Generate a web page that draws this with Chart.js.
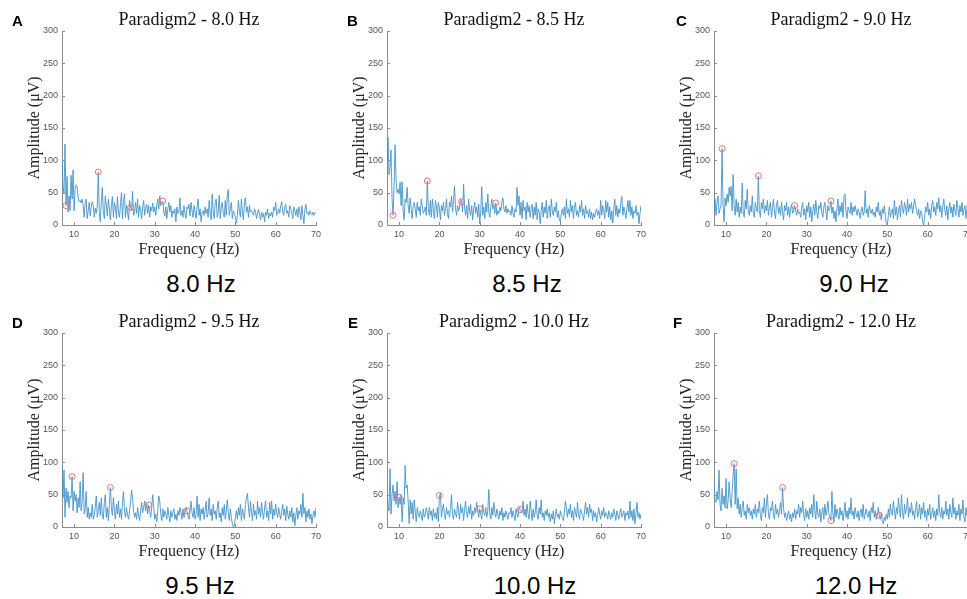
<!DOCTYPE html>
<html>
<head>
<meta charset="utf-8">
<script src="https://cdn.jsdelivr.net/npm/chart.js@4.4.1/dist/chart.umd.min.js"></script>
<style>
  html, body { margin: 0; padding: 0; background: #fff; overflow: hidden; }
  body { width: 967px; height: 599px; position: relative; }
  canvas { position: absolute; }
  .letter { position: absolute; font: bold 15px "Liberation Sans", Arial, sans-serif; line-height: 15px; color: #000; }
  .caption { position: absolute; width: 140px; text-align: center; font: 24px "Liberation Sans", Arial, sans-serif; line-height: 28px; color: #000; }
</style>
</head>
<body>
<canvas id="cA" width="330" height="268" style="left:0px;top:0px"></canvas>
<canvas id="cB" width="330" height="268" style="left:325px;top:0px"></canvas>
<canvas id="cC" width="330" height="268" style="left:652px;top:0px"></canvas>
<canvas id="cD" width="330" height="268" style="left:0px;top:302px"></canvas>
<canvas id="cE" width="330" height="268" style="left:325px;top:302px"></canvas>
<canvas id="cF" width="330" height="268" style="left:652px;top:302px"></canvas>

<div class="letter" style="left:12px;top:13px">A</div>
<div class="letter" style="left:347px;top:13px">B</div>
<div class="letter" style="left:676px;top:13px">C</div>
<div class="letter" style="left:12px;top:315px">D</div>
<div class="letter" style="left:348px;top:315px">E</div>
<div class="letter" style="left:673px;top:315px">F</div>

<div class="caption" style="left:131px;top:270px">8.0 Hz</div>
<div class="caption" style="left:457px;top:270px">8.5 Hz</div>
<div class="caption" style="left:784px;top:270px">9.0 Hz</div>
<div class="caption" style="left:130px;top:572px">9.5 Hz</div>
<div class="caption" style="left:465px;top:572px">10.0 Hz</div>
<div class="caption" style="left:786px;top:572px">12.0 Hz</div>

<script>
// frequency bins: 7 Hz to 70 Hz, 0.25 Hz resolution (253 bins)
const freqStart = 7;
const freqStep = 0.25;
const xTicks = [10, 20, 30, 40, 50, 60, 70];
const yTicks = [0, 50, 100, 150, 200, 250, 300];

// amplitude spectra (uV), one row = 5 Hz
const ampA = [
  100,60,48,125,30, 75,20,45,22,77, 40,85,22,55,62, 60,42,36,38,34,
  40,30,12,35,40, 10,22,35,14,28, 36,30,12,26,18, 30,82,20,5,35,
  58,20,10,45,30, 14,40,25,8,30, 44,12,35,28,10, 44,20,12,30,50,
  10,35,48,12,30, 20,8,38,27,22, 52,15,20,35,18, 40,12,30,24,10,
  28,38,15,25,32, 18,30,12,28,22, 34,20,28,15,30, 40,25,45,30,35,
  37,20,14,28,10, 25,35,20,30,12, 22,18,25,5,28, 18,20,42,15,22,
  12,30,18,10,28, 25,32,14,35,22, 12,30,20,10,28, 40,15,25,5,20,
  22,15,28,18,25, 12,38,20,8,48, 20,10,35,40,12, 20,46,10,28,35,
  18,12,38,15,45, 55,15,25,35,10, 22,18,12,3,15, 38,22,12,40,20,
  8,35,42,20,28, 12,30,20,22,18, 15,25,20,10,18, 24,15,8,20,12,
  18,5,20,15,25, 10,18,14,20,12, 28,22,35,15,20, 25,18,30,36,20,
  15,28,32,18,22, 12,30,25,18,10, 28,22,15,25,12, 28,20,8,30,15,
  2,25,32,18,20, 15,22,18,16,20, 15,18,20
];
const ampB = [
  70,135,78,90,116, 40,15,60,124,70, 50,55,48,66,30, 67,22,8,40,35,
  58,30,18,42,25, 10,30,35,25,12, 35,22,28,15,40, 30,18,22,28,15,
  68,25,15,38,12, 40,22,10,38,30, 12,35,25,8,30, 22,35,15,25,40,
  18,10,35,28,45, 20,38,60,25,15, 30,22,28,40,36, 20,63,25,15,30,
  10,40,22,15,30, 8,25,35,18,28, 12,32,2,22,59, 15,28,10,35,20,
  48,20,12,30,40, 25,30,18,34,15, 22,18,28,22,35, 42,25,20,30,18,
  25,20,22,15,30, 18,12,25,20,58, 30,45,15,35,10, 38,22,28,8,35,
  20,30,12,25,32, 10,28,15,35,8, 25,20,2,22,35, 12,28,18,38,10,
  25,30,12,40,22, 15,28,20,35,12, 22,8,5,18,25, 15,28,10,40,18,
  25,12,38,20,30, 10,28,35,15,22, 12,30,20,38,15, 25,10,30,18,22,
  12,25,10,20,8, 18,12,20,25,15, 22,10,38,15,30, 22,10,38,20,35,
  12,28,8,22,3, 25,40,15,30,12, 25,18,35,44,15, 28,20,10,25,38,
  20,38,15,28,10, 22,18,30,15,20, 2,18,30
];
const ampC = [
  20,40,15,35,45, 18,25,30,118,30, 5,42,30,48,35, 58,45,60,22,78,
  30,15,40,20,35, 12,28,18,65,20, 12,38,25,55,22, 15,30,20,45,18,
  12,35,25,20,76, 22,12,35,25,40, 18,30,22,38,15, 28,35,12,25,40,
  20,10,32,38,18, 28,15,35,20,8, 30,22,35,15,28, 12,25,32,18,22,
  30,22,15,25,18, 20,12,28,35,15, 25,8,30,20,35, 12,28,5,22,32,
  15,38,20,10,30, 25,35,18,12,28, 35,20,8,30,22, 25,37,18,28,10,
  22,5,25,40,15, 30,20,35,12,45, 48,20,10,28,22, 18,35,15,28,20,
  30,22,15,25,20, 10,22,28,15,20, 53,18,25,12,30, 22,18,25,15,20,
  12,28,20,35,15, 22,8,25,18,30, 12,2,0,15,28, 12,20,25,10,38,
  15,28,8,22,30, 12,38,25,18,35, 28,15,40,20,32, 25,35,18,28,40,
  30,22,15,25,10, 22,18,5,0,15, 28,20,35,15,25, 10,30,38,20,28,
  15,35,25,42,20, 30,12,28,40,22, 15,30,8,25,35, 18,28,12,32,22,
  15,38,25,12,30, 20,35,15,25,30, 10,28,35
];
const ampD = [
  95,45,88,15,60, 38,55,30,48,45, 78,25,55,40,50, 22,45,30,70,25,
  40,84,20,28,55, 15,30,12,22,15, 35,12,18,30,48, 15,25,38,18,45,
  20,12,38,50,15, 30,10,35,61,30, 18,45,25,12,35, 20,40,15,28,12,
  38,55,25,15,30, 18,12,25,40,57, 45,25,15,22,12, 30,18,10,25,38,
  22,30,40,25,38, 20,34,25,15,30, 50,30,12,20,8, 25,48,40,20,10,
  28,15,25,20,12, 30,18,8,25,15, 22,28,12,20,10, 25,18,30,22,12,
  28,15,22,30,25, 18,12,25,40,22, 15,30,12,20,48, 15,35,10,28,20,
  30,12,25,40,15, 22,45,18,28,10, 35,20,25,12,30, 40,15,22,8,30,
  18,35,12,25,42, 20,10,28,15,5, 0,2,15,25,12, 30,18,35,10,28,
  20,12,35,45,52, 30,15,40,22,10, 35,18,25,12,40, 20,30,15,38,22,
  12,30,40,15,25, 10,38,20,40,12, 28,18,35,22,15, 30,20,12,25,35,
  18,28,10,32,20, 12,25,15,30,8, 22,2,18,30,12, 25,20,35,15,52,
  20,30,8,25,15, 28,12,20,5,18, 25,15,30
];
const ampE = [
  50,35,25,90,20, 50,65,40,55,35, 70,30,46,35,50, 8,45,35,95,60,
  65,40,5,42,20, 38,12,42,25,8, 30,20,15,25,18, 10,28,15,20,30,
  22,12,30,18,25, 10,28,15,22,12, 30,8,49,52,15, 28,35,18,12,30,
  20,25,15,30,50, 18,12,28,20,15, 38,25,12,35,22, 30,10,28,40,20,
  15,32,20,35,12, 25,18,30,22,38, 28,15,28,20,12, 35,22,18,30,15,
  25,58,20,12,30, 18,38,22,15,28, 20,12,25,18,30, 10,22,15,25,18,
  12,22,20,30,15, 25,18,10,28,20, 15,30,27,25,22, 40,18,28,15,35,
  20,12,40,25,10, 28,15,22,42,18, 12,30,20,42,15, 22,10,25,18,28,
  15,22,8,20,12, 25,5,18,28,15, 20,12,25,18,15, 10,22,40,30,15,
  28,20,35,15,25, 10,30,22,15,38, 20,12,28,22,18, 10,25,38,20,30,
  15,35,22,28,10, 25,15,22,8,18, 30,20,12,25,18, 30,15,22,20,12,
  25,18,12,22,15, 28,20,10,25,18, 12,22,28,15,20, 25,10,22,18,25,
  12,40,15,25,10, 28,5,20,38,15, 22,12,20
];
const ampF = [
  65,40,38,55,42, 88,35,25,60,35, 48,30,75,28,40, 70,45,30,55,80,
  98,35,90,28,45, 20,35,15,30,40, 18,25,12,35,22, 30,18,25,12,28,
  20,35,15,28,22, 40,18,10,30,22, 45,15,35,50,20, 12,30,25,40,18,
  12,35,20,28,15, 25,38,20,61,30, 15,22,10,18,25, 12,20,8,22,15,
  28,12,25,20,35, 15,30,22,40,18, 10,28,15,25,12, 30,20,35,15,50,
  25,12,40,20,15, 28,8,22,30,12, 35,18,25,40,20, 15,10,55,20,8,
  35,15,28,20,12, 30,18,25,10,22, 38,15,25,12,30, 20,45,18,25,12,
  30,20,15,25,10, 22,28,15,35,12, 20,28,18,15,25, 10,30,22,38,15,
  25,12,18,30,18, 12,22,8,5,15, 10,20,12,28,15, 35,22,18,40,25,
  12,30,20,45,25, 15,50,22,12,35, 20,28,45,15,30, 22,38,18,25,12,
  28,40,15,22,35, 12,30,20,38,15, 25,10,28,18,35, 12,22,30,15,25,
  10,28,18,50,22, 15,30,12,25,20, 40,18,28,12,35, 22,15,45,20,30,
  12,25,18,35,10, 28,20,42,15,8, 30,18,25
];

// harmonic markers (red circles): stimulus frequency and its harmonics
const markFreqA = [8, 16, 24, 32];       const markAmpA = [30, 82, 27, 37];
const markFreqB = [8.5, 17, 25.5, 34];   const markAmpB = [15, 68, 36, 34];
const markFreqC = [9, 18, 27, 36];       const markAmpC = [118, 76, 30, 37];
const markFreqD = [9.5, 19, 28.5, 38];   const markAmpD = [78, 61, 34, 25];
const markFreqE = [10, 20, 30, 40];      const markAmpE = [46, 49, 28, 27];
const markFreqF = [12, 24, 36, 48];      const markAmpF = [98, 61, 10, 18];

const lineColor = '#4394c9';
const markColor = '#e57373';
const axisColor = '#8c8c8c';

// small inward tick marks like the matlab axes
const inwardTicks = {
  id: 'inwardTicks',
  afterDraw(chart) {
    const {ctx, chartArea, scales} = chart;
    ctx.save();
    ctx.strokeStyle = axisColor;
    ctx.lineWidth = 1;
    ctx.beginPath();
    scales.x.ticks.forEach(t => {
      const px = Math.round(scales.x.getPixelForValue(t.value)) + 0.5;
      ctx.moveTo(px, chartArea.bottom);
      ctx.lineTo(px, chartArea.bottom - 3);
    });
    scales.y.ticks.forEach(t => {
      const py = Math.round(scales.y.getPixelForValue(t.value)) + 0.5;
      ctx.moveTo(chartArea.left, py);
      ctx.lineTo(chartArea.left + 3, py);
    });
    ctx.stroke();
    ctx.restore();
  }
};

function makePanel(id, title, amps, markFreqs, markAmps) {
  const lineData = amps.map((v, i) => ({x: freqStart + i * freqStep, y: v}));
  const markData = markFreqs.map((f, i) => ({x: f, y: markAmps[i]}));
  const tickFont = {family: '"Liberation Sans", Arial, sans-serif', size: 9};
  const labelFont = {family: '"Liberation Serif", "Times New Roman", serif', size: 16};

  return new Chart(document.getElementById(id), {
    type: 'line',
    data: {
      datasets: [
        {
          data: markData,
          showLine: false,
          pointRadius: 3,
          pointStyle: 'circle',
          pointBorderColor: markColor,
          pointBackgroundColor: 'rgba(0,0,0,0)',
          pointBorderWidth: 1
        },
        {
          data: lineData,
          borderColor: lineColor,
          borderWidth: 0.9,
          pointRadius: 0,
          tension: 0
        }
      ]
    },
    options: {
      responsive: false,
      animation: false,
      devicePixelRatio: 1,
      layout: {padding: {left: 0, right: 14, top: 0, bottom: 0}},
      plugins: {
        legend: {display: false},
        tooltip: {enabled: false},
        title: {
          display: true,
          text: title,
          fullSize: false,
          color: '#111',
          font: {family: '"Liberation Serif", "Times New Roman", serif', size: 18, weight: 'normal'},
          padding: {top: 9, bottom: 0.4}
        }
      },
      scales: {
        x: {
          type: 'linear',
          min: 7,
          max: 70,
          grid: {display: false, drawTicks: false},
          border: {color: axisColor, width: 1},
          afterBuildTicks: s => { s.ticks = xTicks.map(v => ({value: v})); },
          afterFit: s => { s.height = 43; },
          ticks: {font: tickFont, color: '#555', padding: 4, maxRotation: 0, callback: v => String(v)},
          title: {display: true, text: 'Frequency (Hz)', font: labelFont, color: '#262626', padding: {top: 0, bottom: 9}}
        },
        y: {
          min: 0,
          max: 300,
          grid: {display: false, drawTicks: false},
          border: {color: axisColor, width: 1},
          afterBuildTicks: s => { s.ticks = yTicks.map(v => ({value: v})); },
          afterFit: s => { s.width = 62; },
          ticks: {font: tickFont, color: '#555', padding: 4, callback: v => String(v)},
          title: {display: true, text: 'Amplitude (\u03bcV)', font: labelFont, color: '#262626', padding: {top: 25, bottom: 0}}
        }
      }
    },
    plugins: [inwardTicks]
  });
}

makePanel('cA', 'Paradigm2 - 8.0 Hz', ampA, markFreqA, markAmpA);
makePanel('cB', 'Paradigm2 - 8.5 Hz', ampB, markFreqB, markAmpB);
makePanel('cC', 'Paradigm2 - 9.0 Hz', ampC, markFreqC, markAmpC);
makePanel('cD', 'Paradigm2 - 9.5 Hz', ampD, markFreqD, markAmpD);
makePanel('cE', 'Paradigm2 - 10.0 Hz', ampE, markFreqE, markAmpE);
makePanel('cF', 'Paradigm2 - 12.0 Hz', ampF, markFreqF, markAmpF);
</script>
</body>
</html>
